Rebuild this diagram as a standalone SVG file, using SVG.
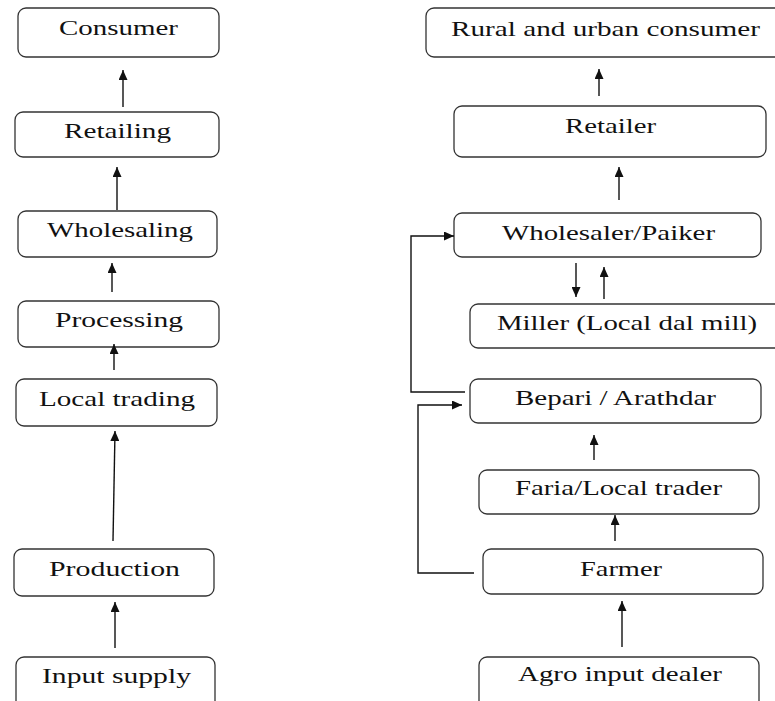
<svg xmlns="http://www.w3.org/2000/svg" width="775" height="701" viewBox="0 0 775 701">
<style>
.box{fill:#fff;stroke:#333;stroke-width:1.3}
.t{font-family:"Liberation Serif","Times New Roman",serif;font-size:22px;fill:#111}
.c{stroke:#111;stroke-width:1.4;fill:none}
</style>
<defs>
<marker id="ah" markerUnits="userSpaceOnUse" markerWidth="10" markerHeight="9" refX="10" refY="4.5" orient="auto">
<path d="M0,0 L10,4.5 L0,9 z" fill="#111"/>
</marker>
</defs>
<rect width="775" height="701" fill="#fff"/>
<g id="consumer"><rect class="box" x="18" y="8" width="201" height="49" rx="8"/><text class="t" x="59" y="35" textLength="119" lengthAdjust="spacingAndGlyphs">Consumer</text></g>
<g id="retailing"><rect class="box" x="15" y="112" width="204" height="45" rx="8"/><text class="t" x="64" y="138" textLength="107" lengthAdjust="spacingAndGlyphs">Retailing</text></g>
<g id="wholesaling"><rect class="box" x="18" y="211" width="199" height="46" rx="8"/><text class="t" x="47" y="237" textLength="146" lengthAdjust="spacingAndGlyphs">Wholesaling</text></g>
<g id="processing"><rect class="box" x="18" y="301" width="201" height="46" rx="8"/><text class="t" x="55" y="327" textLength="128" lengthAdjust="spacingAndGlyphs">Processing</text></g>
<g id="localtrading"><rect class="box" x="16" y="379" width="201" height="47" rx="8"/><text class="t" x="39" y="406" textLength="156" lengthAdjust="spacingAndGlyphs">Local trading</text></g>
<g id="production"><rect class="box" x="14" y="549" width="200" height="47" rx="8"/><text class="t" x="49" y="576" textLength="131" lengthAdjust="spacingAndGlyphs">Production</text></g>
<g id="inputsupply"><rect class="box" x="16" y="657" width="199" height="60" rx="8"/><text class="t" x="42" y="683" textLength="149" lengthAdjust="spacingAndGlyphs">Input supply</text></g>

<g id="ruralconsumer"><rect class="box" x="426" y="8" width="360" height="49" rx="8"/><text class="t" x="451" y="36" textLength="309" lengthAdjust="spacingAndGlyphs">Rural and urban consumer</text></g>
<g id="retailer"><rect class="box" x="454" y="106" width="312" height="51" rx="8"/><text class="t" x="565" y="133" textLength="91" lengthAdjust="spacingAndGlyphs">Retailer</text></g>
<g id="wholesaler"><rect class="box" x="454" y="213" width="307" height="44" rx="8"/><text class="t" x="502" y="240" textLength="213" lengthAdjust="spacingAndGlyphs">Wholesaler/Paiker</text></g>
<g id="miller"><rect class="box" x="470" y="304" width="320" height="44" rx="8"/><text class="t" x="497" y="330" textLength="260" lengthAdjust="spacingAndGlyphs">Miller (Local dal mill)</text></g>
<g id="bepari"><rect class="box" x="470" y="379" width="291" height="44" rx="8"/><text class="t" x="515" y="405" textLength="201" lengthAdjust="spacingAndGlyphs">Bepari / Arathdar</text></g>
<g id="faria"><rect class="box" x="479" y="470" width="280" height="44" rx="8"/><text class="t" x="515" y="495" textLength="207" lengthAdjust="spacingAndGlyphs">Faria/Local trader</text></g>
<g id="farmer"><rect class="box" x="483" y="549" width="280" height="45" rx="8"/><text class="t" x="580" y="576" textLength="82" lengthAdjust="spacingAndGlyphs">Farmer</text></g>
<g id="agro"><rect class="box" x="479" y="657" width="280" height="60" rx="8"/><text class="t" x="518" y="681" textLength="204" lengthAdjust="spacingAndGlyphs">Agro input dealer</text></g>

<g id="connectors">
<line class="c" x1="123" y1="107" x2="123" y2="70" marker-end="url(#ah)"/>
<line class="c" x1="117" y1="210" x2="117" y2="167" marker-end="url(#ah)"/>
<line class="c" x1="112" y1="292" x2="112" y2="263" marker-end="url(#ah)"/>
<line class="c" x1="114" y1="370" x2="114" y2="344" marker-end="url(#ah)"/>
<line class="c" x1="113" y1="541" x2="115" y2="431" marker-end="url(#ah)"/>
<line class="c" x1="115" y1="648" x2="115" y2="602" marker-end="url(#ah)"/>

<line class="c" x1="599" y1="96" x2="599" y2="69" marker-end="url(#ah)"/>
<line class="c" x1="619" y1="200" x2="619" y2="167" marker-end="url(#ah)"/>
<line class="c" x1="576" y1="263" x2="576" y2="297" marker-end="url(#ah)"/>
<line class="c" x1="604" y1="299" x2="604" y2="267" marker-end="url(#ah)"/>
<polyline class="c" points="465,392 411,392 411,236 454,236" marker-end="url(#ah)"/>
<polyline class="c" points="474,573 418,573 418,405 462,405" marker-end="url(#ah)"/>
<line class="c" x1="594" y1="460" x2="594" y2="435" marker-end="url(#ah)"/>
<line class="c" x1="615" y1="541" x2="615" y2="515" marker-end="url(#ah)"/>
<line class="c" x1="622" y1="647" x2="622" y2="601" marker-end="url(#ah)"/>
</g>
</svg>
